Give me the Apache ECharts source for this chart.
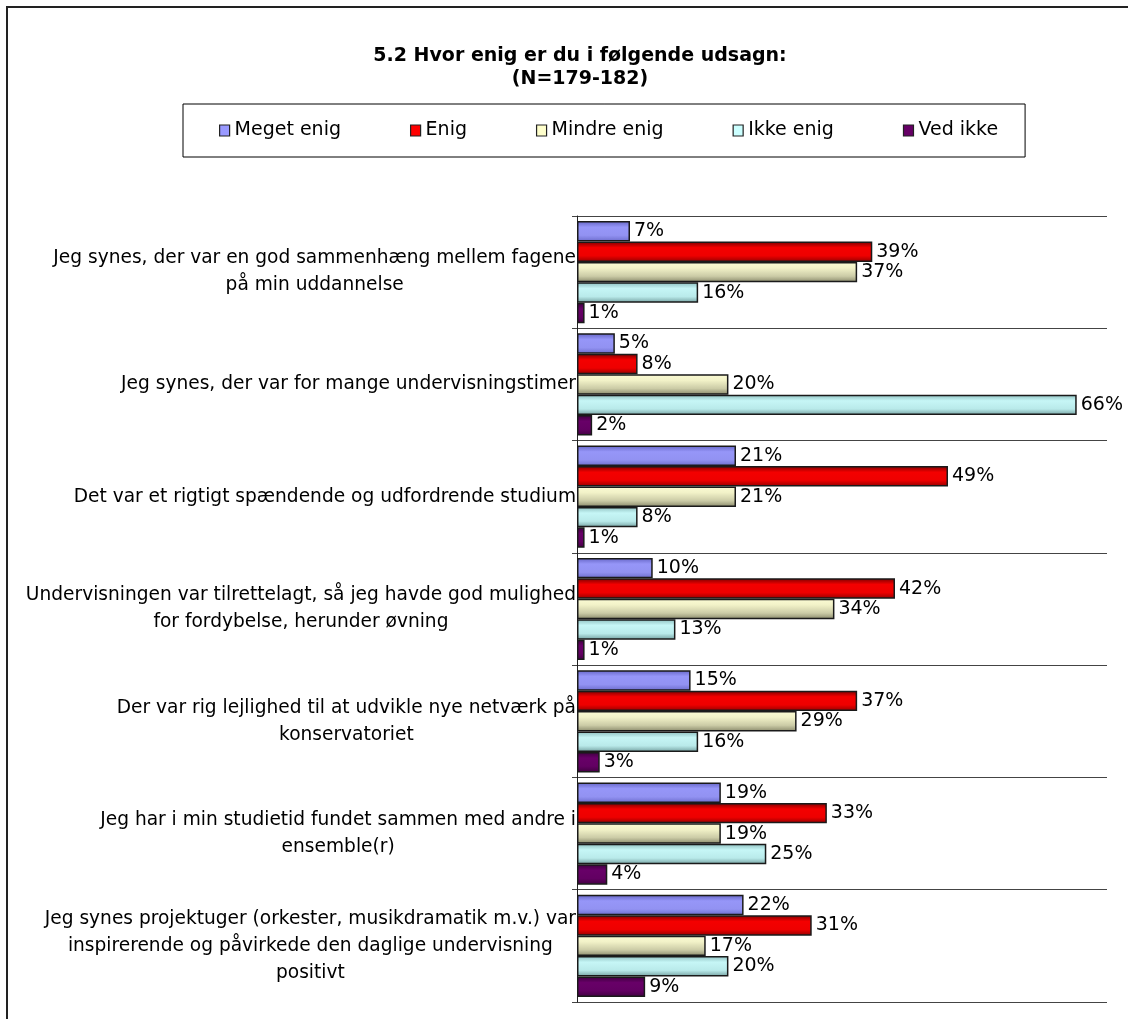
<!DOCTYPE html>
<html>
<head>
<meta charset="utf-8">
<script src="https://cdn.jsdelivr.net/npm/echarts@6/dist/echarts.min.js"></script>
<style>
html,body{margin:0;padding:0;background:#fff;}
#chart{width:1128px;height:1019px;}
</style>
</head>
<body>
<div id="chart"></div>
<script>
const categories = [
  "Jeg synes, der var en god sammenhæng mellem fagene\npå min uddannelse",
  "Jeg synes, der var for mange undervisningstimer",
  "Det var et rigtigt spændende og udfordrende studium",
  "Undervisningen var tilrettelagt, så jeg havde god mulighed\nfor fordybelse, herunder øvning",
  "Der var rig lejlighed til at udvikle nye netværk på\nkonservatoriet",
  "Jeg har i min studietid fundet sammen med andre i\nensemble(r)",
  "Jeg synes projektuger (orkester, musikdramatik m.v.) var\ninspirerende og påvirkede den daglige undervisning\npositivt"
];
const seriesNames = ["Meget enig", "Enig", "Mindre enig", "Ikke enig", "Ved ikke"];
const megetEnig  = [7, 5, 21, 10, 15, 19, 22];
const enig       = [39, 8, 49, 42, 37, 33, 31];
const mindreEnig = [37, 20, 21, 34, 29, 19, 17];
const ikkeEnig   = [16, 66, 8, 13, 16, 25, 20];
const vedIkke    = [1, 2, 1, 1, 3, 4, 9];
const seriesValues = [megetEnig, enig, mindreEnig, ikkeEnig, vedIkke];

const FONT = "DejaVu Sans";
const flatColors = ["#9999FF", "#FF0000", "#FFFFCC", "#CCFFFF", "#660066"];
const gradStops = [
  [[0, "#6464c4"], [0.3, "#9696f8"], [0.7, "#9292f2"], [1, "#6c6ccc"]],
  [[0, "#7a0000"], [0.3, "#f40000"], [0.7, "#ee0000"], [1, "#940000"]],
  [[0, "#fbfbd4"], [0.3, "#f2f2c8"], [0.7, "#cbcba6"], [1, "#88886a"]],
  [[0, "#8dbebe"], [0.3, "#c6f6f6"], [0.7, "#b9eaea"], [1, "#74a0a0"]],
  [[0, "#3a003a"], [0.3, "#680068"], [0.7, "#620062"], [1, "#400040"]]
];

const chart = echarts.init(document.getElementById('chart'), null, {renderer: 'canvas'});

const series = seriesNames.map((name, i) => ({
  name: name,
  type: 'bar',
  data: seriesValues[i],
  barGap: '0%',
  barCategoryGap: '9%',
  itemStyle: {
    color: new echarts.graphic.LinearGradient(0, 0, 0, 1,
      gradStops[i].map(s => ({offset: s[0], color: s[1]}))),
    borderColor: '#1a1a1a',
    borderWidth: 1.5
  },
  label: {
    show: true,
    position: 'right',
    distance: 4,
    formatter: '{c}%',
    color: '#000',
    fontFamily: FONT,
    fontSize: 19
  },
  emphasis: {disabled: true}
}));

chart.setOption({
  animation: false,
  backgroundColor: '#fff',
  graphic: [{
    type: 'rect',
    shape: {x: 7, y: 7, width: 1140, height: 1030},
    style: {fill: 'none', stroke: '#222', lineWidth: 2},
    silent: true
  }],
  title: {
    text: '5.2 Hvor enig er du i følgende udsagn:\n(N=179-182)',
    left: 575,
    top: 40,
    textAlign: 'center',
    textStyle: {fontFamily: FONT, fontSize: 19, fontWeight: 'bold', color: '#000', lineHeight: 23}
  },
  legend: {
    left: 183,
    top: 104,
    padding: [17, 27, 17, 36],
    borderColor: '#000',
    borderWidth: 1,
    itemGap: 69,
    itemWidth: 10,
    itemHeight: 11,
    icon: 'rect',
    selectedMode: false,
    textStyle: {fontFamily: FONT, fontSize: 19, color: '#000'},
    data: seriesNames.map((n, i) => ({
      name: n,
      itemStyle: {color: flatColors[i], borderColor: '#222', borderWidth: 1.2}
    }))
  },
  grid: {left: 577, right: 21, top: 216, bottom: 17, containLabel: false},
  xAxis: {
    type: 'value',
    min: 0,
    max: 70,
    show: false
  },
  yAxis: {
    type: 'category',
    data: categories,
    inverse: true,
    axisLine: {show: true, lineStyle: {color: '#222', width: 1}},
    axisTick: {show: true, length: 5, lineStyle: {color: '#444'}},
    splitLine: {show: true, lineStyle: {color: '#444', width: 1}},
    axisLabel: {
      interval: 0,
      margin: 1,
      color: '#000',
      fontFamily: FONT,
      fontSize: 18.6,
      lineHeight: 27,
      formatter: function (v) {
        return v.split('\n').map(l => '{c|' + l + '}').join('\n');
      },
      rich: {
        c: {align: 'center', fontFamily: FONT, fontSize: 18.6, lineHeight: 27, color: '#000'}
      }
    }
  },
  series: series
});
</script>
</body>
</html>
